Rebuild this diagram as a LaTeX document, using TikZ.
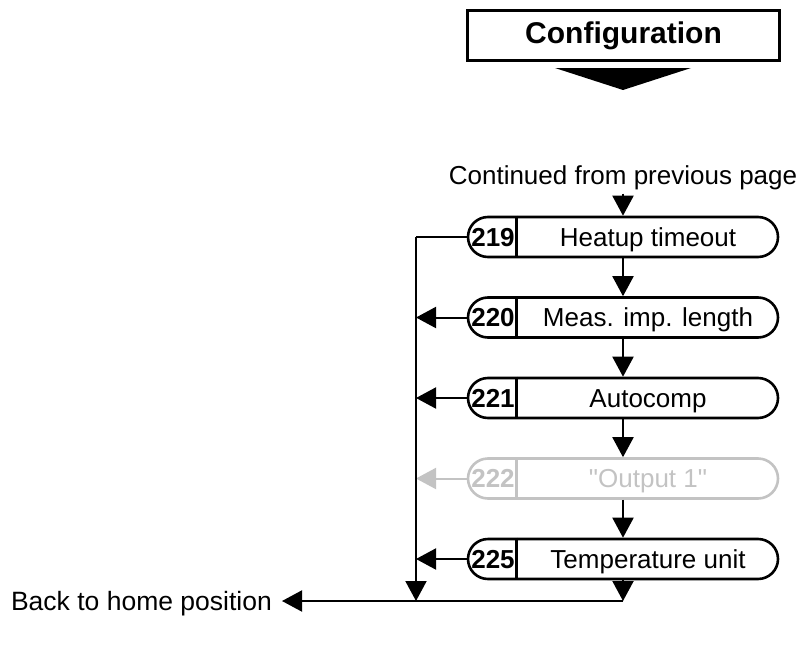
\documentclass[tikz,border=0pt]{standalone}
\usepackage{fontspec}
\setmainfont{Liberation Sans}
\usetikzlibrary{arrows.meta}
\definecolor{fadegray}{RGB}{195,195,195}
\begin{document}
\begin{tikzpicture}[x=1pt,y=-1pt,
  stadium/.style={draw,line width=2.6pt,rounded corners=20pt,minimum width=310pt,minimum height=40pt,inner sep=0pt},
  numtxt/.style={font=\fontsize{26}{30}\selectfont\bfseries,inner sep=0pt,anchor=base},
  lbltxt/.style={font=\fontsize{26}{30}\selectfont,inner sep=0pt},
  conn/.style={line width=2pt,-{Triangle[width=21pt,length=20pt]}},
  plainline/.style={line width=2pt},
  sepline/.style={line width=2.6pt}
]
\useasboundingbox (0,0) rectangle (806,653);
% header
\node[draw,line width=3pt,minimum width=312pt,minimum height=50pt,inner sep=0pt,
      font=\fontsize{30}{36}\selectfont\bfseries] (cfg) at (623.5,35.5) {Configuration};
\fill (555,68) -- (691,68) -- (623,90) -- cycle;
% continued
\node[lbltxt,anchor=base] (cont) at (623,184) {Continued from previous page};
% menu items
\foreach \id/\yy/\lbl/\col in {219/237/Heatup timeout/black,
                               220/317.5/Meas. imp. length/black,
                               221/398/Autocomp/black,
                               222/478.5/\textquotedbl Output 1\textquotedbl/fadegray,
                               225/559/Temperature unit/black}{
  \node[stadium,draw=\col] (n\id) at (623,\yy) {};
  \draw[sepline,draw=\col] ([xshift=50pt]n\id.north west) -- ([xshift=50pt]n\id.south west);
  \node[numtxt,text=\col] (num\id) at (493,\yy+9.3) {\id};
  \node[lbltxt,anchor=base,text=\col] (lbl\id) at (648,\yy+9.3) {\lbl};
  \coordinate (t\id) at (416,\yy);
}
% vertical flow
\draw[conn] (cont.south) ++(0,4) -- (n219.north);
\draw[conn] (n219.south) -- (n220.north);
\draw[conn] (n220.south) -- (n221.north);
\draw[conn] (n221.south) -- (n222.north);
\draw[conn] (n222.south) -- (n225.north);
% left returns
\draw[plainline] (n219.west) -- (t219);
\draw[conn] (n220.west) -- (t220);
\draw[conn] (n221.west) -- (t221);
\draw[conn,draw=fadegray,fill=fadegray] (n222.west) -- (t222);
\draw[conn] (n225.west) -- (t225);
% bottom
\coordinate (b1) at (416,601);
\coordinate (b2) at (623,601);
\node[lbltxt,anchor=base east,font=\fontsize{26.5}{30}\selectfont] (home) at (272,610.3) {Back to home position};
\draw[conn] (t219) -- (b1);
\draw[conn] (n225.south) -- (b2);
\draw[conn] (b2) -- ([xshift=10pt]home.base east |- b2);
\end{tikzpicture}
\end{document}
